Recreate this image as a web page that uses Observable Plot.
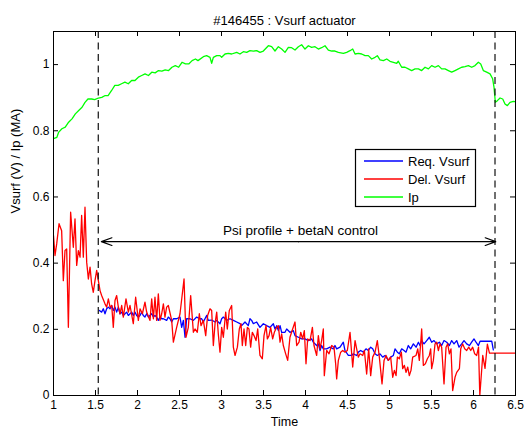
<!DOCTYPE html>
<html>
<head>
<meta charset="utf-8">
<script src="https://cdn.jsdelivr.net/npm/d3@7"></script>
<script src="https://cdn.jsdelivr.net/npm/@observablehq/plot@0.6"></script>
<style>
  html, body { margin: 0; padding: 0; background: #fff; }
</style>
</head>
<body>
<div id="chart"></div>
<script>
// ---- chart text and ticks ----
const chartTitle = "#146455 : Vsurf actuator";
const xLabel = "Time";
const yLabel = "Vsurf (V) / Ip (MA)";
const xTicks = [1, 1.5, 2, 2.5, 3, 3.5, 4, 4.5, 5, 5.5, 6, 6.5];
const yTicks = [0, 0.2, 0.4, 0.6, 0.8, 1];
const seriesNames = ["Req. Vsurf", "Del. Vsurf", "Ip"];
const seriesColors = ["#0000ff", "#ff0000", "#00ff00"];

// control window (dashed markers) and its annotation
const controlWindow = [1.533, 6.256];
const arrowEnds = [1.57, 6.265];
const arrowLevel = 0.465;
const arrowLabel = "Psi profile + betaN control";
const arrowLabelTime = 3.94;

// ---- series: [time, value] ----
const ipSamples = [
  [1.00,0.776],[1.04,0.780],[1.06,0.795],[1.10,0.806],[1.14,0.811],[1.18,0.826],[1.22,0.836],[1.26,0.851],
  [1.30,0.861],[1.34,0.871],[1.375,0.886],[1.41,0.896],[1.455,0.896],[1.49,0.894],[1.535,0.899],
  [1.575,0.901],[1.61,0.906],[1.65,0.906],[1.69,0.921],[1.73,0.937],[1.77,0.937],[1.81,0.942],[1.85,0.947],
  [1.89,0.942],[1.93,0.952],[1.97,0.952],[2.01,0.962],[2.05,0.967],[2.09,0.972],[2.13,0.967],[2.17,0.977],
  [2.21,0.975],[2.25,0.982],[2.29,0.980],[2.33,0.984],[2.37,0.982],[2.41,0.992],[2.45,0.997],[2.49,0.992],
  [2.53,1.007],[2.57,1.002],[2.61,1.002],[2.65,1.012],[2.69,1.017],[2.72,1.012],
  [2.784,1.024],[2.823,1.027],[2.863,1.022],[2.883,1.004],[2.903,1.022],[2.943,1.027],[2.982,1.027],
  [3.002,1.022],[3.042,1.032],[3.081,1.034],[3.121,1.032],[3.181,1.037],[3.220,1.032],[3.260,1.039],
  [3.300,1.037],[3.339,1.042],[3.379,1.041],[3.419,1.042],[3.458,1.037],[3.498,1.041],[3.558,1.057],
  [3.597,1.054],[3.637,1.041],[3.677,1.054],[3.716,1.047],[3.756,1.037],[3.796,1.052],[3.835,1.051],
  [3.875,1.044],[3.915,1.054],[3.954,1.060],[3.994,1.047],[4.034,1.057],[4.073,1.052],[4.113,1.054],
  [4.153,1.047],[4.192,1.051],[4.232,1.057],[4.272,1.044],[4.312,1.041],[4.351,1.041],[4.391,1.037],
  [4.451,1.034],[4.490,1.037],[4.530,1.042],[4.562,1.047],[4.590,1.032],[4.629,1.034],[4.669,1.032],
  [4.709,1.027],[4.748,1.027],[4.788,1.017],[4.828,1.022],[4.855,1.027],[4.887,1.014],[4.927,1.012],
  [4.967,1.017],[5.006,1.010],[5.046,1.007],[5.086,1.004],[5.105,1.010],[5.145,0.992],[5.185,0.992],
  [5.224,0.987],[5.264,0.982],[5.304,0.987],[5.344,0.987],[5.383,0.982],[5.423,0.992],[5.463,0.987],
  [5.502,0.997],[5.542,0.992],[5.582,0.997],[5.621,0.987],[5.661,0.987],[5.701,0.982],[5.740,0.977],
  [5.780,0.982],[5.820,0.987],[5.859,0.992],[5.899,0.994],[5.939,0.997],[5.979,0.992],[6.018,0.997],
  [6.058,1.007],[6.086,1.002],[6.117,0.982],[6.157,0.977],[6.197,0.972],[6.228,0.957],[6.244,0.932],
  [6.260,0.886],[6.284,0.891],[6.316,0.899],[6.348,0.896],[6.375,0.881],[6.403,0.876],[6.435,0.886],
  [6.474,0.889],[6.50,0.888]
];

const reqSamples = [
  [1.546,0.257],[1.573,0.252],[1.593,0.262],[1.613,0.247],[1.633,0.262],[1.653,0.267],[1.673,0.262],
  [1.693,0.272],[1.712,0.257],[1.732,0.267],[1.752,0.252],[1.772,0.267],[1.792,0.247],[1.812,0.252],
  [1.831,0.242],[1.851,0.247],[1.871,0.252],[1.891,0.242],[1.911,0.247],[1.931,0.252],[1.950,0.242],
  [1.970,0.252],[1.990,0.242],[2.010,0.237],[2.030,0.242],[2.050,0.252],[2.069,0.242],[2.089,0.237],
  [2.109,0.247],[2.129,0.237],[2.149,0.242],[2.169,0.247],[2.189,0.237],[2.208,0.242],[2.228,0.237],
  [2.248,0.227],[2.268,0.237],[2.288,0.232],[2.308,0.232],[2.347,0.227],[2.367,0.237],[2.387,0.232],
  [2.407,0.222],[2.427,0.232],[2.466,0.232],[2.506,0.237],[2.526,0.206],[2.546,0.227],[2.566,0.176],
  [2.585,0.232],[2.625,0.232],[2.665,0.227],[2.704,0.237],[2.744,0.232],[2.764,0.232],[2.784,0.222],
  [2.823,0.242],[2.843,0.227],[2.883,0.228],[2.923,0.222],[2.943,0.227],[2.982,0.217],[3.002,0.232],
  [3.022,0.237],[3.062,0.227],[3.101,0.232],[3.141,0.227],[3.181,0.222],[3.220,0.217],[3.240,0.211],
  [3.280,0.222],[3.319,0.211],[3.339,0.232],[3.359,0.227],[3.379,0.217],[3.419,0.222],[3.458,0.206],
  [3.498,0.217],[3.538,0.211],[3.577,0.206],[3.617,0.217],[3.637,0.201],[3.657,0.211],[3.677,0.196],
  [3.697,0.211],[3.716,0.191],[3.756,0.191],[3.776,0.201],[3.815,0.191],[3.855,0.196],[3.875,0.181],
  [3.915,0.176],[3.954,0.171],[3.994,0.171],[4.034,0.166],[4.073,0.171],[4.093,0.161],[4.133,0.151],
  [4.153,0.156],[4.173,0.136],[4.192,0.151],[4.212,0.141],[4.252,0.141],[4.292,0.146],[4.331,0.141],
  [4.351,0.151],[4.371,0.141],[4.411,0.146],[4.450,0.161],[4.470,0.136],[4.510,0.121],[4.550,0.121],
  [4.569,0.126],[4.609,0.121],[4.629,0.131],[4.657,0.136],[4.689,0.131],[4.720,0.141],[4.748,0.136],
  [4.776,0.146],[4.800,0.141],[4.828,0.126],[4.855,0.121],[4.887,0.126],[4.919,0.116],[4.947,0.121],
  [4.986,0.106],[5.014,0.116],[5.046,0.121],[5.066,0.141],[5.094,0.131],[5.117,0.126],[5.145,0.141],
  [5.173,0.136],[5.197,0.131],[5.224,0.151],[5.252,0.141],[5.284,0.156],[5.316,0.146],[5.344,0.161],
  [5.363,0.151],[5.383,0.166],[5.411,0.156],[5.443,0.166],[5.474,0.176],[5.502,0.161],[5.530,0.166],
  [5.562,0.156],[5.594,0.161],[5.621,0.151],[5.649,0.166],[5.681,0.161],[5.713,0.151],[5.740,0.166],
  [5.768,0.156],[5.800,0.166],[5.828,0.146],[5.859,0.156],[5.887,0.166],[5.919,0.156],[5.951,0.151],
  [5.978,0.161],[6.006,0.171],[6.030,0.161],[6.058,0.151],[6.078,0.164],[6.217,0.164],[6.236,0.138]
];

const delSamples = [
  [1.000,0.483],[1.018,0.423],[1.038,0.458],[1.066,0.519],[1.097,0.498],[1.117,0.347],[1.137,0.438],
  [1.157,0.443],[1.177,0.206],[1.204,0.554],[1.236,0.448],[1.256,0.534],[1.276,0.393],[1.296,0.438],
  [1.316,0.418],[1.335,0.544],[1.355,0.418],[1.375,0.569],[1.395,0.403],[1.415,0.352],[1.435,0.388],
  [1.454,0.337],[1.474,0.312],[1.494,0.347],[1.514,0.378],[1.534,0.347],[1.554,0.317],[1.573,0.302],
  [1.613,0.277],[1.633,0.267],[1.653,0.292],[1.673,0.267],[1.693,0.272],[1.712,0.206],[1.732,0.287],
  [1.752,0.302],[1.772,0.267],[1.792,0.247],[1.812,0.272],[1.831,0.237],[1.863,0.292],[1.891,0.252],
  [1.911,0.272],[1.950,0.217],[1.978,0.297],[2.010,0.227],[2.030,0.262],[2.058,0.247],[2.089,0.282],
  [2.109,0.252],[2.149,0.227],[2.169,0.292],[2.189,0.232],[2.208,0.297],[2.228,0.227],[2.248,0.307],
  [2.268,0.227],[2.288,0.247],[2.308,0.277],[2.327,0.237],[2.347,0.267],[2.367,0.272],[2.407,0.227],
  [2.427,0.161],[2.466,0.206],[2.506,0.247],[2.554,0.352],[2.577,0.176],[2.605,0.206],[2.633,0.302],
  [2.665,0.191],[2.685,0.201],[2.712,0.191],[2.736,0.247],[2.756,0.211],[2.784,0.227],[2.812,0.181],
  [2.835,0.242],[2.863,0.262],[2.883,0.257],[2.903,0.151],[2.923,0.217],[2.943,0.252],[2.962,0.186],
  [2.982,0.131],[3.002,0.206],[3.022,0.176],[3.050,0.252],[3.069,0.201],[3.093,0.257],[3.121,0.272],
  [3.141,0.146],[3.161,0.121],[3.189,0.146],[3.212,0.201],[3.232,0.217],[3.248,0.151],[3.268,0.201],
  [3.288,0.151],[3.308,0.206],[3.327,0.201],[3.347,0.146],[3.367,0.191],[3.387,0.181],[3.411,0.166],
  [3.431,0.201],[3.458,0.121],[3.486,0.111],[3.506,0.181],[3.530,0.211],[3.546,0.171],[3.566,0.181],
  [3.585,0.206],[3.609,0.171],[3.629,0.191],[3.657,0.206],[3.677,0.211],[3.697,0.161],[3.716,0.186],
  [3.736,0.151],[3.764,0.126],[3.788,0.106],[3.815,0.176],[3.847,0.201],[3.875,0.222],[3.895,0.151],
  [3.923,0.161],[3.943,0.191],[3.966,0.171],[3.986,0.196],[4.006,0.096],[4.026,0.171],[4.054,0.166],
  [4.082,0.206],[4.101,0.151],[4.133,0.121],[4.153,0.181],[4.173,0.141],[4.192,0.166],[4.212,0.201],
  [4.224,0.060],[4.252,0.136],[4.280,0.126],[4.312,0.151],[4.339,0.146],[4.359,0.096],[4.371,0.050],
  [4.391,0.106],[4.419,0.131],[4.443,0.136],[4.470,0.131],[4.498,0.136],[4.530,0.191],[4.562,0.086],
  [4.590,0.166],[4.609,0.141],[4.629,0.116],[4.649,0.126],[4.681,0.121],[4.701,0.136],[4.728,0.065],
  [4.752,0.141],[4.776,0.060],[4.800,0.116],[4.828,0.131],[4.855,0.166],[4.879,0.116],[4.911,0.035],
  [4.935,0.106],[4.959,0.121],[4.986,0.106],[5.014,0.116],[5.038,0.055],[5.058,0.076],[5.078,0.060],
  [5.094,0.116],[5.117,0.111],[5.141,0.131],[5.157,0.081],[5.177,0.091],[5.197,0.070],[5.217,0.086],
  [5.236,0.060],[5.256,0.076],[5.276,0.116],[5.316,0.121],[5.336,0.141],[5.355,0.106],[5.371,0.156],
  [5.383,0.201],[5.403,0.091],[5.427,0.096],[5.451,0.111],[5.474,0.121],[5.490,0.141],[5.502,0.081],
  [5.522,0.106],[5.542,0.156],[5.562,0.161],[5.582,0.136],[5.601,0.156],[5.621,0.146],[5.649,0.035],
  [5.673,0.146],[5.693,0.156],[5.713,0.126],[5.732,0.141],[5.752,0.015],[5.780,0.055],[5.800,0.070],
  [5.832,0.081],[5.848,0.141],[5.871,0.156],[5.895,0.141],[5.919,0.136],[5.943,0.146],[5.967,0.136],
  [5.990,0.146],[6.014,0.126],[6.038,0.121],[6.060,0.146],[6.075,0.000],[6.110,0.121],[6.137,0.082],
  [6.165,0.155],[6.190,0.128],[6.220,0.128],[6.500,0.128]
];

// ---- layout ----
const W = 524, H = 430;
const M = {top: 31, right: 9, bottom: 35, left: 53};
const frameW = W - M.left - M.right;
const frameH = H - M.top - M.bottom;
const tickLen = 5;
const font = "'Liberation Sans', Arial, Helvetica, sans-serif";

const toRows = (samples) => samples.map(([t, v]) => ({t, v}));
const ipRows = toRows(ipSamples);
const reqRows = toRows(reqSamples);
const delRows = toRows(delSamples);

const arrowMid = (arrowEnds[0] + arrowEnds[1]) / 2;

const chart = Plot.plot({
  width: W,
  height: H,
  marginTop: M.top,
  marginRight: M.right,
  marginBottom: M.bottom,
  marginLeft: M.left,
  x: {domain: [1, 6.5]},
  y: {domain: [0, 1.1]},
  style: {fontFamily: font, fontSize: "12px", background: "#fff", color: "#000"},
  marks: [
    // tick labels (the tick marks themselves point inward, drawn below)
    Plot.axisX({ticks: xTicks, tickSize: 0, tickPadding: 5, tickFormat: String, label: null, fontSize: 12}),
    Plot.axisY({ticks: yTicks, tickSize: 0, tickPadding: 4, tickFormat: String, label: null, fontSize: 12}),
    Plot.ruleX(xTicks, {x: d => d, insetTop: frameH - tickLen, stroke: "#000"}),
    Plot.ruleX(xTicks, {x: d => d, insetBottom: frameH - tickLen, stroke: "#000"}),
    Plot.ruleY(yTicks, {y: d => d, insetRight: frameW - tickLen, stroke: "#000"}),
    Plot.ruleY(yTicks, {y: d => d, insetLeft: frameW - tickLen, stroke: "#000"}),

    // series
    Plot.line(ipRows, {x: "t", y: "v", stroke: seriesColors[2], strokeWidth: 1.3, clip: true}),
    Plot.line(reqRows, {x: "t", y: "v", stroke: seriesColors[0], strokeWidth: 1.3, clip: true}),
    Plot.line(delRows, {x: "t", y: "v", stroke: seriesColors[1], strokeWidth: 1.3, clip: true}),

    // control window markers
    Plot.ruleX(controlWindow, {x: d => d, stroke: "#111", strokeWidth: 1.2, strokeDasharray: "7,4.5"}),

    // double-headed arrow spanning the control window
    Plot.arrow(arrowEnds, {
      x1: () => arrowMid, x2: d => d,
      y1: () => arrowLevel, y2: () => arrowLevel,
      stroke: "#000", strokeWidth: 1.2, headAngle: 40, headLength: 14
    }),
    Plot.text([arrowLabel], {
      x: () => arrowLabelTime, y: () => arrowLevel, dy: -11,
      fontSize: 13.5, fill: "#000"
    }),

    // title and axis labels
    Plot.text([chartTitle], {frameAnchor: "top", dy: -15.5, fontSize: 13, fill: "#000"}),
    Plot.text([xLabel], {frameAnchor: "bottom", dy: 30.5, fontSize: 12.5, fill: "#000"}),
    Plot.text([yLabel], {frameAnchor: "left", dx: -38, rotate: -90, fontSize: 13, fill: "#000"}),

    Plot.frame({stroke: "#000", strokeWidth: 1})
  ]
});

document.getElementById("chart").appendChild(chart);

// legend box in the upper right of the plot area
const legend = d3.select(chart).append("g")
  .attr("font-family", font)
  .attr("font-size", 13)
  .attr("text-anchor", "start");
legend.append("rect")
  .attr("x", 355.5).attr("y", 149.5)
  .attr("width", 120).attr("height", 57)
  .attr("fill", "#fff").attr("stroke", "#000").attr("stroke-width", 1.2);
seriesNames.forEach((name, i) => {
  const y = 161 + i * 18;
  legend.append("line")
    .attr("x1", 364).attr("x2", 403)
    .attr("y1", y).attr("y2", y)
    .attr("stroke", seriesColors[i]).attr("stroke-width", 1.3);
  legend.append("text")
    .attr("x", 408).attr("y", y).attr("dy", "0.35em")
    .attr("fill", "#000")
    .text(name);
});
</script>
</body>
</html>
